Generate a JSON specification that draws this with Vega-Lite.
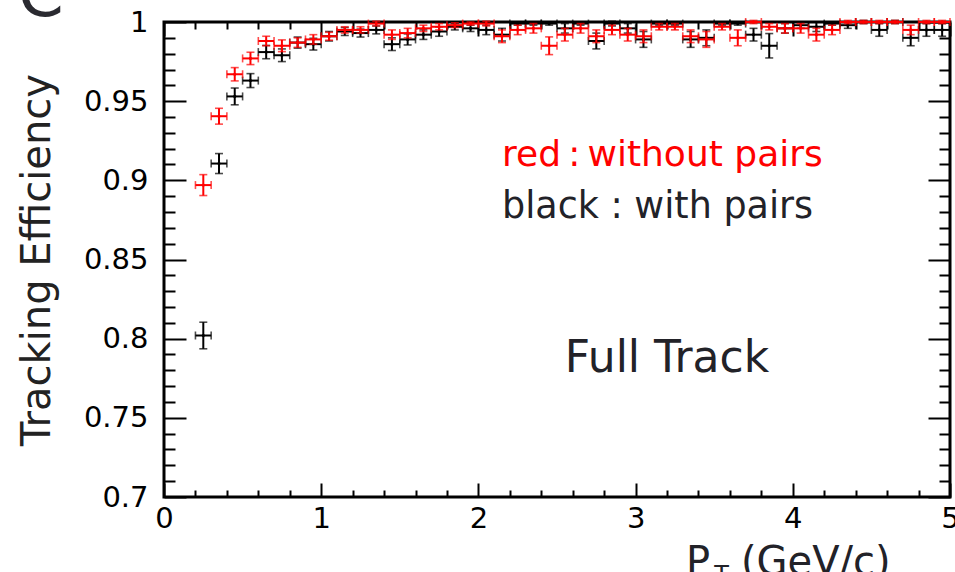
{
"$schema": "https://vega.github.io/schema/vega-lite/v6.json",
"width": 786, "height": 475,
"autosize": {"type": "none"},
"padding": {"left": 164, "top": 22, "right": 5, "bottom": 75},
"background": "white",
"config": {"view": {"stroke": "#000", "strokeWidth": 3}, "font": "DejaVu Sans"},
"datasets": {
"pts": [
{"s":"black","pt":0.25,"eff":0.802,"err":0.0084,"xe":0.05},
{"s":"black","pt":0.35,"eff":0.9106,"err":0.0063,"xe":0.05},
{"s":"black","pt":0.45,"eff":0.953,"err":0.0053,"xe":0.05},
{"s":"black","pt":0.55,"eff":0.963,"err":0.0044,"xe":0.05},
{"s":"black","pt":0.65,"eff":0.981,"err":0.0042,"xe":0.05},
{"s":"black","pt":0.75,"eff":0.979,"err":0.004,"xe":0.05},
{"s":"black","pt":0.85,"eff":0.987,"err":0.0035,"xe":0.05},
{"s":"black","pt":0.95,"eff":0.986,"err":0.0037,"xe":0.05},
{"s":"black","pt":1.05,"eff":0.991,"err":0.003,"xe":0.05},
{"s":"black","pt":1.15,"eff":0.994,"err":0.0025,"xe":0.05},
{"s":"black","pt":1.25,"eff":0.993,"err":0.0025,"xe":0.05},
{"s":"black","pt":1.35,"eff":0.995,"err":0.0025,"xe":0.05},
{"s":"black","pt":1.45,"eff":0.986,"err":0.004,"xe":0.05},
{"s":"black","pt":1.55,"eff":0.989,"err":0.0035,"xe":0.05},
{"s":"black","pt":1.65,"eff":0.992,"err":0.003,"xe":0.05},
{"s":"black","pt":1.75,"eff":0.994,"err":0.003,"xe":0.05},
{"s":"black","pt":1.85,"eff":0.997,"err":0.002,"xe":0.05},
{"s":"black","pt":1.95,"eff":0.996,"err":0.002,"xe":0.05},
{"s":"black","pt":2.05,"eff":0.995,"err":0.003,"xe":0.05},
{"s":"black","pt":2.15,"eff":0.992,"err":0.004,"xe":0.05},
{"s":"black","pt":2.25,"eff":0.999,"err":0.001,"xe":0.05},
{"s":"black","pt":2.35,"eff":0.999,"err":0.001,"xe":0.05},
{"s":"black","pt":2.45,"eff":0.999,"err":0.001,"xe":0.05},
{"s":"black","pt":2.55,"eff":0.996,"err":0.003,"xe":0.05},
{"s":"black","pt":2.65,"eff":0.999,"err":0.001,"xe":0.05},
{"s":"black","pt":2.75,"eff":0.988,"err":0.005,"xe":0.05},
{"s":"black","pt":2.85,"eff":0.999,"err":0.0015,"xe":0.05},
{"s":"black","pt":2.95,"eff":0.996,"err":0.003,"xe":0.05},
{"s":"black","pt":3.05,"eff":0.989,"err":0.005,"xe":0.05},
{"s":"black","pt":3.15,"eff":0.999,"err":0.001,"xe":0.05},
{"s":"black","pt":3.25,"eff":0.999,"err":0.001,"xe":0.05},
{"s":"black","pt":3.35,"eff":0.989,"err":0.005,"xe":0.05},
{"s":"black","pt":3.45,"eff":0.99,"err":0.005,"xe":0.05},
{"s":"black","pt":3.55,"eff":0.999,"err":0.001,"xe":0.05},
{"s":"black","pt":3.65,"eff":0.999,"err":0.001,"xe":0.05},
{"s":"black","pt":3.75,"eff":0.992,"err":0.004,"xe":0.05},
{"s":"black","pt":3.85,"eff":0.985,"err":0.0077,"xe":0.05},
{"s":"black","pt":3.95,"eff":0.996,"err":0.003,"xe":0.05},
{"s":"black","pt":4.05,"eff":0.998,"err":0.002,"xe":0.05},
{"s":"black","pt":4.15,"eff":0.997,"err":0.003,"xe":0.05},
{"s":"black","pt":4.25,"eff":0.999,"err":0.001,"xe":0.05},
{"s":"black","pt":4.35,"eff":0.998,"err":0.002,"xe":0.05},
{"s":"black","pt":4.45,"eff":1.0,"err":0.001,"xe":0.05},
{"s":"black","pt":4.55,"eff":0.995,"err":0.004,"xe":0.05},
{"s":"black","pt":4.65,"eff":1.0,"err":0.001,"xe":0.05},
{"s":"black","pt":4.75,"eff":0.99,"err":0.005,"xe":0.05},
{"s":"black","pt":4.85,"eff":0.995,"err":0.004,"xe":0.05},
{"s":"black","pt":4.95,"eff":0.995,"err":0.004,"xe":0.05},
{"s":"red","pt":0.25,"eff":0.897,"err":0.0066,"xe":0.05},
{"s":"red","pt":0.35,"eff":0.9405,"err":0.005,"xe":0.05},
{"s":"red","pt":0.45,"eff":0.967,"err":0.0042,"xe":0.05},
{"s":"red","pt":0.55,"eff":0.977,"err":0.0039,"xe":0.05},
{"s":"red","pt":0.65,"eff":0.988,"err":0.003,"xe":0.05},
{"s":"red","pt":0.75,"eff":0.985,"err":0.0037,"xe":0.05},
{"s":"red","pt":0.85,"eff":0.987,"err":0.003,"xe":0.05},
{"s":"red","pt":0.95,"eff":0.989,"err":0.003,"xe":0.05},
{"s":"red","pt":1.05,"eff":0.991,"err":0.0025,"xe":0.05},
{"s":"red","pt":1.15,"eff":0.995,"err":0.002,"xe":0.05},
{"s":"red","pt":1.25,"eff":0.995,"err":0.002,"xe":0.05},
{"s":"red","pt":1.35,"eff":0.999,"err":0.0015,"xe":0.05},
{"s":"red","pt":1.45,"eff":0.992,"err":0.003,"xe":0.05},
{"s":"red","pt":1.55,"eff":0.993,"err":0.003,"xe":0.05},
{"s":"red","pt":1.65,"eff":0.996,"err":0.002,"xe":0.05},
{"s":"red","pt":1.75,"eff":0.997,"err":0.002,"xe":0.05},
{"s":"red","pt":1.85,"eff":0.998,"err":0.0015,"xe":0.05},
{"s":"red","pt":1.95,"eff":0.999,"err":0.001,"xe":0.05},
{"s":"red","pt":2.05,"eff":0.999,"err":0.0015,"xe":0.05},
{"s":"red","pt":2.15,"eff":0.991,"err":0.004,"xe":0.05},
{"s":"red","pt":2.25,"eff":0.995,"err":0.003,"xe":0.05},
{"s":"red","pt":2.35,"eff":0.996,"err":0.003,"xe":0.05},
{"s":"red","pt":2.45,"eff":0.985,"err":0.0056,"xe":0.05},
{"s":"red","pt":2.55,"eff":0.992,"err":0.004,"xe":0.05},
{"s":"red","pt":2.65,"eff":0.996,"err":0.003,"xe":0.05},
{"s":"red","pt":2.75,"eff":0.991,"err":0.004,"xe":0.05},
{"s":"red","pt":2.85,"eff":0.995,"err":0.003,"xe":0.05},
{"s":"red","pt":2.95,"eff":0.992,"err":0.004,"xe":0.05},
{"s":"red","pt":3.05,"eff":0.991,"err":0.004,"xe":0.05},
{"s":"red","pt":3.15,"eff":0.997,"err":0.002,"xe":0.05},
{"s":"red","pt":3.25,"eff":0.997,"err":0.002,"xe":0.05},
{"s":"red","pt":3.35,"eff":0.991,"err":0.004,"xe":0.05},
{"s":"red","pt":3.45,"eff":0.989,"err":0.005,"xe":0.05},
{"s":"red","pt":3.55,"eff":0.997,"err":0.002,"xe":0.05},
{"s":"red","pt":3.65,"eff":0.99,"err":0.005,"xe":0.05},
{"s":"red","pt":3.75,"eff":1.0,"err":0.001,"xe":0.05},
{"s":"red","pt":3.85,"eff":0.997,"err":0.002,"xe":0.05},
{"s":"red","pt":3.95,"eff":0.996,"err":0.003,"xe":0.05},
{"s":"red","pt":4.05,"eff":0.996,"err":0.003,"xe":0.05},
{"s":"red","pt":4.15,"eff":0.992,"err":0.004,"xe":0.05},
{"s":"red","pt":4.25,"eff":0.995,"err":0.003,"xe":0.05},
{"s":"red","pt":4.35,"eff":1.0,"err":0.001,"xe":0.05},
{"s":"red","pt":4.45,"eff":1.0,"err":0.001,"xe":0.05},
{"s":"red","pt":4.55,"eff":1.0,"err":0.001,"xe":0.05},
{"s":"red","pt":4.65,"eff":1.0,"err":0.001,"xe":0.05},
{"s":"red","pt":4.75,"eff":0.995,"err":0.003,"xe":0.05},
{"s":"red","pt":4.85,"eff":1.0,"err":0.001,"xe":0.05},
{"s":"red","pt":4.95,"eff":1.0,"err":0.001,"xe":0.05}
]
},
"resolve": {"axis": {"x": "independent", "y": "independent"}},
"layer": [
{"data": {"values": []}, "mark": "rule",
 "encoding": {
  "x": {"field": "a", "type": "quantitative", "scale": {"domain": [0, 5], "nice": false, "zero": false},
        "axis": {"orient": "bottom", "values": [0,1,2,3,4,5], "tickSize": -14, "tickWidth": 2, "tickColor": "#000", "domain": false, "grid": false, "labels": true, "labelFont": "DejaVu Sans", "labelFontSize": 29, "labelColor": "#000", "labelPadding": 21, "labelFlush": false, "labelOverlap": false, "labelBound": false, "title": null}},
  "y": {"field": "b", "type": "quantitative", "scale": {"domain": [0.7, 1], "nice": false, "zero": false},
        "axis": {"orient": "left", "values": [0.7,0.75,0.8,0.85,0.9,0.95,1], "tickSize": -22, "tickWidth": 2, "tickColor": "#000", "domain": false, "grid": false, "labelExpr": "format(datum.value, '.2~f')", "labelFont": "DejaVu Sans", "labelFontSize": 29, "labelColor": "#000", "labelPadding": 38, "labelOverlap": false, "labelBound": false, "labelFlush": false,
                 "title": "Tracking Efficiency", "titleFont": "DejaVu Sans", "titleFontSize": 40, "titleFontWeight": "normal", "titleColor": "#222", "titlePadding": 26}}
 }},
{"data": {"values": []}, "mark": "rule",
 "encoding": {
  "x": {"field": "a", "type": "quantitative", "scale": {"domain": [0, 5], "nice": false, "zero": false},
        "axis": {"orient": "bottom", "values": [0.2,0.4,0.6,0.8,1.2,1.4,1.6,1.8,2.2,2.4,2.6,2.8,3.2,3.4,3.6,3.8,4.2,4.4,4.6,4.8], "tickSize": -7, "tickWidth": 2, "tickColor": "#000", "domain": false, "grid": false, "labels": false, "title": null}},
  "y": {"field": "b", "type": "quantitative", "scale": {"domain": [0.7, 1], "nice": false, "zero": false},
        "axis": {"orient": "left", "values": [0.71,0.72,0.73,0.74,0.76,0.77,0.78,0.79,0.81,0.82,0.83,0.84,0.86,0.87,0.88,0.89,0.91,0.92,0.93,0.94,0.96,0.97,0.98,0.99], "tickSize": -11, "tickWidth": 2, "tickColor": "#000", "domain": false, "grid": false, "labels": false, "title": null}}
 }},
{"data": {"values": []}, "mark": "rule",
 "encoding": {
  "x": {"field": "a", "type": "quantitative", "scale": {"domain": [0, 5], "nice": false, "zero": false},
        "axis": {"orient": "top", "values": [0,1,2,3,4,5], "tickSize": -14, "tickWidth": 2, "tickColor": "#000", "domain": false, "grid": false, "labels": false, "title": null}},
  "y": {"field": "b", "type": "quantitative", "scale": {"domain": [0.7, 1], "nice": false, "zero": false},
        "axis": {"orient": "right", "values": [0.7,0.75,0.8,0.85,0.9,0.95,1], "tickSize": -22, "tickWidth": 2, "tickColor": "#000", "domain": false, "grid": false, "labels": false, "title": null}}
 }},
{"data": {"values": []}, "mark": "rule",
 "encoding": {
  "x": {"field": "a", "type": "quantitative", "scale": {"domain": [0, 5], "nice": false, "zero": false},
        "axis": {"orient": "top", "values": [0.2,0.4,0.6,0.8,1.2,1.4,1.6,1.8,2.2,2.4,2.6,2.8,3.2,3.4,3.6,3.8,4.2,4.4,4.6,4.8], "tickSize": -7, "tickWidth": 2, "tickColor": "#000", "domain": false, "grid": false, "labels": false, "title": null}},
  "y": {"field": "b", "type": "quantitative", "scale": {"domain": [0.7, 1], "nice": false, "zero": false},
        "axis": {"orient": "right", "values": [0.71,0.72,0.73,0.74,0.76,0.77,0.78,0.79,0.81,0.82,0.83,0.84,0.86,0.87,0.88,0.89,0.91,0.92,0.93,0.94,0.96,0.97,0.98,0.99], "tickSize": -11, "tickWidth": 2, "tickColor": "#000", "domain": false, "grid": false, "labels": false, "title": null}}
 }},
{"data": {"name": "pts"}, "transform": [{"filter": "datum.s === 'black'"}],
 "mark": {"type": "errorbar", "ticks": {"size": 8, "thickness": 1.6}, "thickness": 2},
 "encoding": {
  "x": {"field": "pt", "type": "quantitative", "scale": {"domain": [0, 5], "nice": false, "zero": false}, "axis": null},
  "y": {"field": "eff", "type": "quantitative", "scale": {"domain": [0.7, 1], "nice": false, "zero": false}, "axis": null},
  "yError": {"field": "err"},
  "color": {"value": "#000000"}
 }},
{"data": {"name": "pts"}, "transform": [{"filter": "datum.s === 'black'"}],
 "mark": {"type": "errorbar", "ticks": {"size": 8, "thickness": 1.6}, "thickness": 2},
 "encoding": {
  "x": {"field": "pt", "type": "quantitative", "scale": {"domain": [0, 5], "nice": false, "zero": false}, "axis": null},
  "xError": {"field": "xe"},
  "y": {"field": "eff", "type": "quantitative", "scale": {"domain": [0.7, 1], "nice": false, "zero": false}, "axis": null},
  "color": {"value": "#000000"}
 }},
{"data": {"name": "pts"}, "transform": [{"filter": "datum.s === 'black'"}],
 "mark": {"type": "point", "filled": true, "size": 10, "opacity": 1, "color": "#000000"},
 "encoding": {
  "x": {"field": "pt", "type": "quantitative", "scale": {"domain": [0, 5], "nice": false, "zero": false}, "axis": null},
  "y": {"field": "eff", "type": "quantitative", "scale": {"domain": [0.7, 1], "nice": false, "zero": false}, "axis": null}
 }},
{"data": {"name": "pts"}, "transform": [{"filter": "datum.s === 'red'"}],
 "mark": {"type": "errorbar", "ticks": {"size": 8, "thickness": 1.6}, "thickness": 2},
 "encoding": {
  "x": {"field": "pt", "type": "quantitative", "scale": {"domain": [0, 5], "nice": false, "zero": false}, "axis": null},
  "y": {"field": "eff", "type": "quantitative", "scale": {"domain": [0.7, 1], "nice": false, "zero": false}, "axis": null},
  "yError": {"field": "err"},
  "color": {"value": "#ff0000"}
 }},
{"data": {"name": "pts"}, "transform": [{"filter": "datum.s === 'red'"}],
 "mark": {"type": "errorbar", "ticks": {"size": 8, "thickness": 1.6}, "thickness": 2},
 "encoding": {
  "x": {"field": "pt", "type": "quantitative", "scale": {"domain": [0, 5], "nice": false, "zero": false}, "axis": null},
  "xError": {"field": "xe"},
  "y": {"field": "eff", "type": "quantitative", "scale": {"domain": [0.7, 1], "nice": false, "zero": false}, "axis": null},
  "color": {"value": "#ff0000"}
 }},
{"data": {"name": "pts"}, "transform": [{"filter": "datum.s === 'red'"}],
 "mark": {"type": "point", "filled": true, "size": 10, "opacity": 1, "color": "#ff0000"},
 "encoding": {
  "x": {"field": "pt", "type": "quantitative", "scale": {"domain": [0, 5], "nice": false, "zero": false}, "axis": null},
  "y": {"field": "eff", "type": "quantitative", "scale": {"domain": [0.7, 1], "nice": false, "zero": false}, "axis": null}
 }},
{"data": {"values": [{}]},
 "mark": {"type": "text", "align": "left", "baseline": "alphabetic", "font": "DejaVu Sans", "fontSize": 36, "color": "#ff0000"},
 "encoding": {
  "x": {"datum": 2.15, "type": "quantitative", "scale": {"domain": [0, 5], "nice": false, "zero": false}, "axis": null},
  "y": {"datum": 0.909, "type": "quantitative", "scale": {"domain": [0.7, 1], "nice": false, "zero": false}, "axis": null},
  "text": {"value": "red\u2009:\u2009without pairs"}
 }},
{"data": {"values": [{}]},
 "mark": {"type": "text", "align": "left", "baseline": "alphabetic", "font": "DejaVu Sans", "fontSize": 36.5, "color": "#222228"},
 "encoding": {
  "x": {"datum": 2.15, "type": "quantitative", "scale": {"domain": [0, 5], "nice": false, "zero": false}, "axis": null},
  "y": {"datum": 0.876, "type": "quantitative", "scale": {"domain": [0.7, 1], "nice": false, "zero": false}, "axis": null},
  "text": {"value": "black : with pairs"}
 }},
{"data": {"values": [{}]},
 "mark": {"type": "text", "align": "left", "baseline": "alphabetic", "font": "DejaVu Sans", "fontSize": 44, "color": "#222228"},
 "encoding": {
  "x": {"datum": 2.55, "type": "quantitative", "scale": {"domain": [0, 5], "nice": false, "zero": false}, "axis": null},
  "y": {"datum": 0.779, "type": "quantitative", "scale": {"domain": [0.7, 1], "nice": false, "zero": false}, "axis": null},
  "text": {"value": "Full Track"}
 }},
{"data": {"values": [{}]},
 "mark": {"type": "text", "align": "left", "baseline": "alphabetic", "font": "DejaVu Sans", "fontSize": 40, "color": "#222228"},
 "encoding": {
  "x": {"datum": 3.32, "type": "quantitative", "scale": {"domain": [0, 5], "nice": false, "zero": false}, "axis": null},
  "y": {"datum": 0.651, "type": "quantitative", "scale": {"domain": [0.7, 1], "nice": false, "zero": false}, "axis": null},
  "text": {"value": "P"}
 }},
{"data": {"values": [{}]},
 "mark": {"type": "text", "align": "left", "baseline": "alphabetic", "font": "DejaVu Sans", "fontSize": 24, "color": "#222228"},
 "encoding": {
  "x": {"datum": 3.5, "type": "quantitative", "scale": {"domain": [0, 5], "nice": false, "zero": false}, "axis": null},
  "y": {"datum": 0.6455, "type": "quantitative", "scale": {"domain": [0.7, 1], "nice": false, "zero": false}, "axis": null},
  "text": {"value": "T"}
 }},
{"data": {"values": [{}]},
 "mark": {"type": "text", "align": "left", "baseline": "alphabetic", "font": "DejaVu Sans", "fontSize": 40, "color": "#222228"},
 "encoding": {
  "x": {"datum": 3.67, "type": "quantitative", "scale": {"domain": [0, 5], "nice": false, "zero": false}, "axis": null},
  "y": {"datum": 0.651, "type": "quantitative", "scale": {"domain": [0.7, 1], "nice": false, "zero": false}, "axis": null},
  "text": {"value": "(GeV/c)"}
 }},
{"data": {"values": [{}]},
 "mark": {"type": "text", "align": "left", "baseline": "alphabetic", "font": "DejaVu Sans", "fontSize": 66, "color": "#2a2a30"},
 "encoding": {
  "x": {"datum": -0.93, "type": "quantitative", "scale": {"domain": [0, 5], "nice": false, "zero": false}, "axis": null},
  "y": {"datum": 1.0035, "type": "quantitative", "scale": {"domain": [0.7, 1], "nice": false, "zero": false}, "axis": null},
  "text": {"value": "C"}
 }}
]
}
